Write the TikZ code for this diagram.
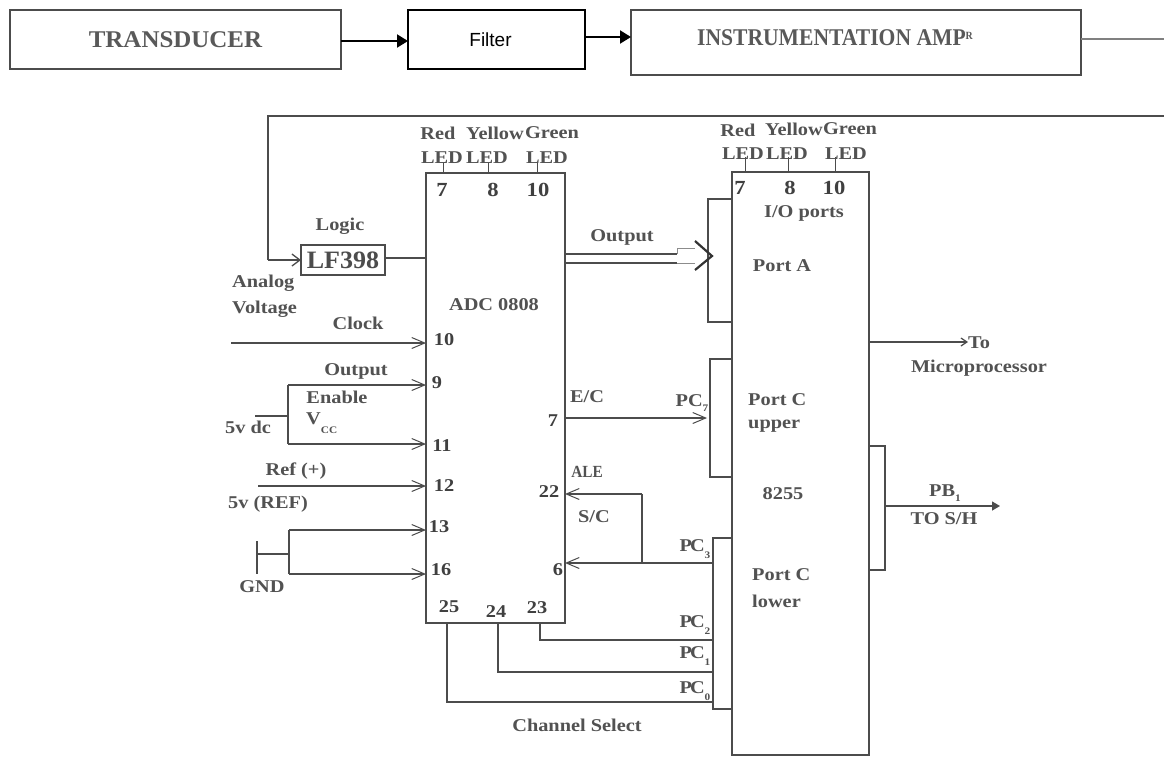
\documentclass[tikz,border=0pt]{standalone}
\usepackage{fontspec}
\setmainfont{Liberation Serif}[FakeStretch=1.13]
\newfontfamily\filterfont{Liberation Sans}
\newfontfamily\blockfont{Liberation Serif}[FakeStretch=1.04,BoldFont={Liberation Serif Bold}]
\newfontfamily\narrowfont{Liberation Serif}[FakeStretch=0.9,BoldFont={Liberation Serif Bold}]
\usetikzlibrary{arrows.meta}
\newcommand{\lowidx}[2][-5pt]{{\fontsize{10}{10}\selectfont\raisebox{#1}{#2}}}
\colorlet{ink}{black!70}
\tikzset{
  wire/.style={draw=ink,line width=1.3pt},
  barb/.style={wire,-{Straight Barb[length=13pt,width=11pt,line width=1pt]}},
  solidtip/.style={draw=black,line width=2pt,-{Triangle[length=11pt,width=13pt]}},
  box/.style={draw=ink,line width=1.5pt,inner sep=0pt,outer sep=0pt},
  blockbox/.style={box,font=\blockfont\fontsize{24}{24}\selectfont\bfseries,text=black!65},
  lbl/.style={inner sep=0pt,text=black!68,font=\fontsize{18}{18}\selectfont\bfseries},
  pin/.style={lbl,text=black!75,font=\fontsize{20}{20}\selectfont\bfseries},
  pinsmall/.style={lbl,text=black!75,font=\fontsize{18}{18}\selectfont\bfseries},
}
\begin{document}
\begin{tikzpicture}[x=1pt,y=-1pt]
\useasboundingbox (0,0) rectangle (1164,756);
\fill[white] (0,0) rectangle (1164,756);

% top chain
\node[blockbox,minimum width=331pt,minimum height=59pt] (trans) at (175.5,39.5) {TRANSDUCER};
\node[box,draw=black,minimum width=177pt,minimum height=59pt,font=\filterfont\fontsize{19}{19}\selectfont,text=black] (filter) at (496.5,39.5) {Filter\hspace*{12pt}};
\node[box,minimum width=450pt,minimum height=65pt] (instr) at (856,42.5) {};
\node[lbl,text=black!65,font=\narrowfont\fontsize{24}{24}\selectfont\bfseries] (instrtxt) at (835,38) {INSTRUMENTATION AMP\raisebox{6pt}{\fontsize{11}{11}\selectfont R}};
\coordinate (outR) at (1164,39);
\coordinate (a1) at (341,41);
\coordinate (a2) at (585,37);
\draw[solidtip] (a1) -- (a1 -| filter.west);
\draw[solidtip] (a2) -- (a2 -| instr.west);
\draw[wire,draw=black!50] (outR -| instr.east) -- (outR);

% port sub-boxes
\node[box,minimum width=24pt,minimum height=123pt] (porta) at (720,260.5) {};
\node[box,minimum width=23pt,minimum height=118pt] (portcu) at (721.5,418) {};
\node[box,minimum width=20pt,minimum height=171pt] (portcl) at (723,623.5) {};
\node[box,minimum width=16pt,minimum height=124pt] (portb) at (877,508) {};

% main chips
\node[box,fill=white,minimum width=139pt,minimum height=450pt] (adc) at (495.5,398) {};
\node[box,fill=white,minimum width=137pt,minimum height=583pt] (ppi) at (800.5,463.5) {};
\node[box,minimum width=84pt,minimum height=30pt,font=\blockfont\fontsize{25}{25}\selectfont\bfseries,text=black!70] (lf) at (343,260) {LF398};

% feedback
\coordinate (fbR) at (1164,116);
\coordinate (fbC) at (268,116);
\coordinate (fbD) at (268,260);
\draw[wire] (fbR) -- (fbC) -- (fbD);
\draw[barb,-{Straight Barb[length=8pt,width=12pt,line width=1.3pt]}] (fbD) -- (lf.west);
\draw[wire] (lf.east |- 0,258) -- (adc.west |- 0,258);

% LED ticks
\foreach \n/\x in {ta/443,tb/488,tc/537}{
  \coordinate (\n) at (\x,163);
  \draw[wire,line width=1pt] (\n) -- (\n |- adc.north);}
\foreach \n/\x in {td/745,te/788,tf/835}{
  \coordinate (\n) at (\x,157);
  \draw[wire,line width=1pt] (\n) -- (\n |- ppi.north);}

% ADC left inputs
\coordinate (clk) at (231,343);
\draw[barb] (clk) -- (clk -| adc.west);
\coordinate (vtop) at (288,385);
\coordinate (vbot) at (288,444);
\coordinate (vin) at (255,416);
\draw[wire] (vtop) -- (vbot);
\draw[wire] (vin) -- (vin -| vtop);
\draw[barb] (vtop) -- (vtop -| adc.west);
\draw[barb] (vbot) -- (vbot -| adc.west);
\coordinate (ref) at (258,486);
\draw[barb] (ref) -- (ref -| adc.west);
\coordinate (gtop) at (289,530);
\coordinate (gbot) at (289,574);
\coordinate (gndA) at (257,541);
\coordinate (gndB) at (257,574);
\coordinate (gndM) at (257,554);
\draw[wire] (gtop) -- (gbot);
\draw[wire] (gndA) -- (gndB);
\draw[wire] (gndM) -- (gndM -| gtop);
\draw[barb] (gtop) -- (gtop -| adc.west);
\draw[barb] (gbot) -- (gbot -| adc.west);

% ADC output bus
\coordinate (busA) at (677,254);
\coordinate (busB) at (677,263);
\coordinate (hA) at (695,241);
\coordinate (hT) at (712,256);
\coordinate (hB) at (695,270);
\draw[wire] (busA -| adc.east) -- (busA);
\draw[wire] (busB -| adc.east) -- (busB);
\draw[wire,draw=black!45,line width=1pt] (busA) -- (677,248) -- (695,248) (busB) -- (695,263);
\draw[draw=black!80,line width=2.2pt] (hA) -- (hT) -- (hB);

% other ADC right connections
\coordinate (ec) at (707,418);
\draw[barb] (adc.east |- ec) -- (ec);
\coordinate (sc) at (714,563);
\coordinate (aleC) at (642,494);
\draw[barb] (sc) -- (sc -| adc.east);
\draw[wire] (aleC |- sc) -- (aleC);
\draw[barb] (aleC) -- (aleC -| adc.east);

% channel select
\coordinate (c23) at (540,640);
\coordinate (c24) at (498,672);
\coordinate (c25) at (447,702);
\draw[wire] (c23 |- adc.south) -- (c23) -- (c23 -| portcl.west);
\draw[wire] (c24 |- adc.south) -- (c24) -- (c24 -| portcl.west);
\draw[wire] (c25 |- adc.south) -- (c25) -- (c25 -| portcl.west);

% right outputs
\coordinate (mp) at (968,342);
\draw[wire,-{Straight Barb[length=6pt,width=8pt,line width=1.2pt]}] (ppi.east |- mp) -- (mp);
\coordinate (pb) at (1000,506);
\draw[wire,-{Triangle[length=8pt,width=9pt]}] (portb.east |- pb) -- (pb);

% LED labels
\node[lbl] (l1) at (438,133) {Red};
\node[lbl] (l2) at (495,133) {Yellow};
\node[lbl] (l3) at (552,133) {Green};
\node[lbl] (l4) at (442,158) {LED};
\node[lbl] (l5) at (487,158) {LED};
\node[lbl] (l6) at (547,158) {LED};
\node[pin] (p1) at (442,190) {7};
\node[pin] (p2) at (493,190) {8};
\node[pin] (p3) at (538,190) {10};
\node[lbl] (l7) at (738,130) {Red};
\node[lbl] (l8) at (794,129) {Yellow};
\node[lbl] (l9) at (850,129) {Green};
\node[lbl] (l10) at (743,154) {LED};
\node[lbl] (l11) at (787,154) {LED};
\node[lbl] (l12) at (846,154) {LED};
\node[pin] (p4) at (740,188) {7};
\node[pin] (p5) at (790,188) {8};
\node[pin] (p6) at (834,188) {10};

% left labels
\node[lbl] (logic) at (340,226) {Logic};
\node[lbl,anchor=west] (analog) at (232,283) {Analog};
\node[lbl,anchor=west] (volt) at (232,309) {Voltage};
\node[lbl] (clock) at (358,323) {Clock};
\node[lbl] (outp) at (356,371) {Output};
\node[lbl] (en) at (337,397) {Enable};
\node[lbl,anchor=west] (vcc) at (306,423) {V\lowidx[-9pt]{CC}};
\node[lbl] (dc) at (248,427) {5v dc};
\node[lbl] (refp) at (296,471) {Ref (+)};
\node[lbl] (refv) at (268,504) {5v (REF)};
\node[lbl] (gnd) at (262,587) {GND};
\node[lbl] (adct) at (494,305) {ADC 0808};
\node[pinsmall] (n10) at (444,340) {10};
\node[pinsmall] (n9) at (437,383) {9};
\node[pinsmall] (n11) at (442,446) {11};
\node[pinsmall] (n12) at (444,486) {12};
\node[pinsmall] (n13) at (439,527) {13};
\node[pinsmall] (n16) at (441,570) {16};
\node[pinsmall] (n25) at (449,607) {25};
\node[pinsmall] (n24) at (496,612) {24};
\node[pinsmall] (n23) at (537,608) {23};
\node[pinsmall] (n7) at (553,421) {7};
\node[pinsmall] (n22) at (549,492) {22};
\node[pinsmall] (n6) at (558,570) {6};

% centre labels
\node[lbl] (outq) at (622,237) {Output};
\node[lbl] (ect) at (587,397) {E/C};
\node[lbl,font=\narrowfont\fontsize{17}{17}\selectfont\bfseries] (alet) at (587,472) {ALE};
\node[lbl] (sct) at (594,517) {S/C};
\node[lbl] (pc7) at (692,403) {PC\lowidx{7}};
\node[lbl] (pc3) at (695,549) {P\kern-2pt C\lowidx[-7pt]{3}};
\node[lbl] (pc2) at (695,625) {P\kern-2pt C\lowidx[-7pt]{2}};
\node[lbl] (pc1) at (695,656) {P\kern-2pt C\lowidx[-7pt]{1}};
\node[lbl] (pc0) at (695,691) {P\kern-2pt C\lowidx[-7pt]{0}};
\node[lbl] (chan) at (577,725) {Channel Select};

% 8255 labels
\node[lbl] (io) at (804,213) {I/O ports};
\node[lbl] (pa) at (782,266) {Port A};
\node[lbl,anchor=west] (pcu1) at (748,400) {Port C};
\node[lbl,anchor=west] (pcu2) at (748,426) {upper};
\node[lbl] (chip) at (783,494) {8255};
\node[lbl,anchor=west] (pcl1) at (752,575) {Port C};
\node[lbl,anchor=west] (pcl2) at (752,601) {lower};

% right labels
\node[lbl] (to) at (979,343) {To};
\node[lbl] (micro) at (979,368) {Microprocessor};
\node[lbl] (pb1) at (945,493) {PB\lowidx{1}};
\node[lbl] (tosh) at (944,519) {TO S/H};
\end{tikzpicture}
\end{document}
